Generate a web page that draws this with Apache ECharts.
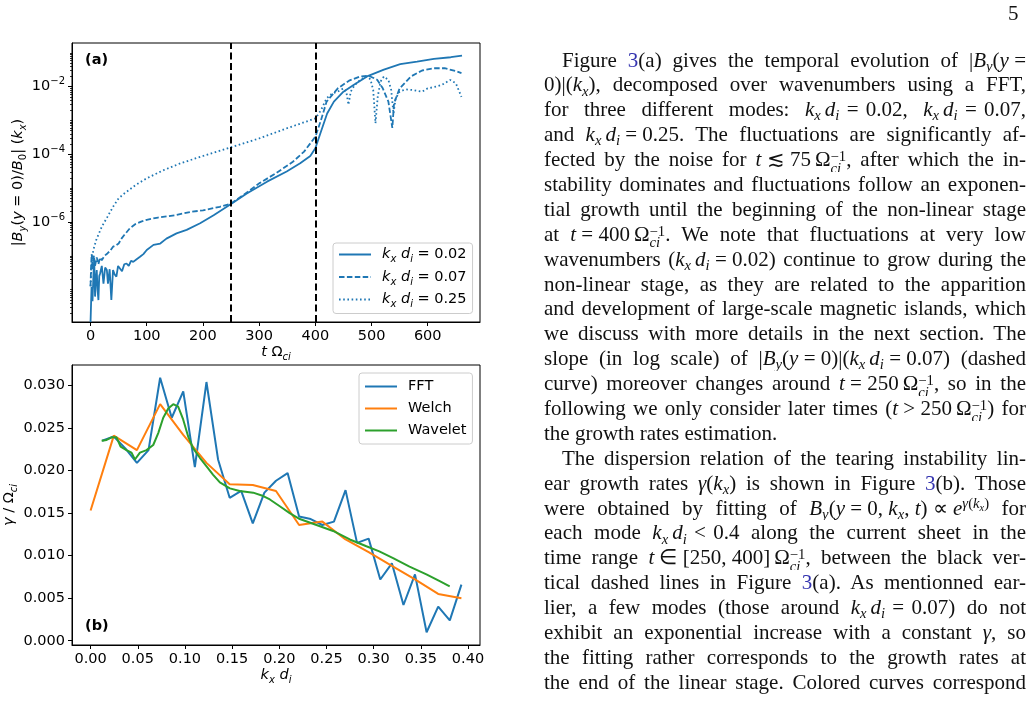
<!DOCTYPE html>
<html>
<head>
<meta charset="utf-8">
<script src="https://cdn.jsdelivr.net/npm/echarts@6/dist/echarts.min.js"></script>
<style>
html, body { margin: 0; padding: 0; background: #fff; }
#page { position: relative; width: 1033px; height: 704px; overflow: hidden; }
#chart { position: absolute; left: 0; top: 0; width: 1033px; height: 704px; }
#pagenum { position: absolute; left: 1008px; top: 0; font-family: "Liberation Serif", serif; font-size: 21px; line-height: 26px; color: #111; }
#text { position: absolute; left: 544px; top: 47.5px; width: 482px; font-family: "Liberation Serif", serif; font-size: 21px; color: #111; }
.l { height: 24.9px; line-height: 24.9px; text-align: justify; text-align-last: justify; overflow: hidden; }
.l.last { text-align-last: left; }
.l.ind { padding-left: 18px; }
.ref { color: #3535b0; }
.m { display: inline-block; white-space: nowrap; }
.m .g { display: inline-block; width: 4px; }
.m .e { display: inline-block; width: 2px; }
sub, sup { font-size: 0.7em; line-height: 0; position: relative; vertical-align: baseline; }
sub { top: 0.28em; }
sup { top: -0.45em; }
.ss { display: inline-block; font-size: 0.7em; line-height: 0.8em; vertical-align: -0.45em; }
.ss span { display: block; }
</style>
</head>
<body>
<div id="page">
  <div id="chart"></div>
  <div id="pagenum">5</div>
  <div id="text">
    <div class="l ind">Figure <span class="ref">3</span>(a) gives the temporal evolution of <span class="m">|<i>B<sub>y</sub></i>(<i>y</i> =</span></div>
    <div class="l"><span class="m">0)|(<i>k<sub>x</sub></i>),</span> decomposed over wavenumbers using a FFT,</div>
    <div class="l">for three different modes: <span class="m"><i>k<sub>x</sub></i><span class="g"></span><i>d<sub>i</sub></i><span class="e"></span> = <span class="e"></span>0.02,</span> <span class="m"><i>k<sub>x</sub></i><span class="g"></span><i>d<sub>i</sub></i><span class="e"></span> = <span class="e"></span>0.07,</span></div>
    <div class="l">and <span class="m"><i>k<sub>x</sub></i><span class="g"></span><i>d<sub>i</sub></i> = 0.25.</span> The fluctuations are significantly af-</div>
    <div class="l">fected by the noise for <span class="m"><i>t</i> ≲ 75<span class="g"></span>Ω<span class="ss"><span>−1</span><span><i>ci</i></span></span>,</span> after which the in-</div>
    <div class="l">stability dominates and fluctuations follow an exponen-</div>
    <div class="l">tial growth until the beginning of the non-linear stage</div>
    <div class="l">at <span class="m"><i>t</i> = 400<span class="g"></span>Ω<span class="ss"><span>−1</span><span><i>ci</i></span></span>.</span> We note that fluctuations at very low</div>
    <div class="l">wavenumbers <span class="m">(<i>k<sub>x</sub></i><span class="g"></span><i>d<sub>i</sub></i> = 0.02)</span> continue to grow during the</div>
    <div class="l">non-linear stage, as they are related to the apparition</div>
    <div class="l">and development of large-scale magnetic islands, which</div>
    <div class="l">we discuss with more details in the next section. The</div>
    <div class="l">slope (in log scale) of <span class="m">|<i>B<sub>y</sub></i>(<i>y</i> = 0)|(<i>k<sub>x</sub></i><span class="g"></span><i>d<sub>i</sub></i> = 0.07)</span> (dashed</div>
    <div class="l">curve) moreover changes around <span class="m"><i>t</i> = 250<span class="g"></span>Ω<span class="ss"><span>−1</span><span><i>ci</i></span></span>,</span> so in the</div>
    <div class="l">following we only consider later times <span class="m">(<i>t</i> &gt; 250<span class="g"></span>Ω<span class="ss"><span>−1</span><span><i>ci</i></span></span>)</span> for</div>
    <div class="l last">the growth rates estimation.</div>
    <div class="l ind">The dispersion relation of the tearing instability lin-</div>
    <div class="l">ear growth rates <span class="m"><i>γ</i>(<i>k<sub>x</sub></i>)</span> is shown in Figure <span class="ref">3</span>(b). Those</div>
    <div class="l">were obtained by fitting of <span class="m"><i>B<sub>y</sub></i>(<i>y</i> = 0, <i>k<sub>x</sub></i>, <i>t</i>) ∝ <i>e</i><sup><i>γ</i>(<i>k<sub>x</sub></i>)</sup></span> for</div>
    <div class="l">each mode <span class="m"><i>k<sub>x</sub></i><span class="g"></span><i>d<sub>i</sub></i><span class="e"></span> &lt; <span class="e"></span>0.4</span> along the current sheet in the</div>
    <div class="l">time range <span class="m"><i>t</i> ∈ [250, 400]<span class="g"></span>Ω<span class="ss"><span>−1</span><span><i>ci</i></span></span>,</span> between the black ver-</div>
    <div class="l">tical dashed lines in Figure <span class="ref">3</span>(a). As mentionned ear-</div>
    <div class="l">lier, a few modes (those around <span class="m"><i>k<sub>x</sub></i><span class="g"></span><i>d<sub>i</sub></i><span class="e"></span> = <span class="e"></span>0.07)</span> do not</div>
    <div class="l">exhibit an exponential increase with a constant <span class="m"><i>γ</i>,</span> so</div>
    <div class="l">the fitting rather corresponds to the growth rates at</div>
    <div class="l">the end of the linear stage. Colored curves correspond</div>
  </div>
</div>
<script>
// panel (a): |By(y=0)/B0|(kx) against t Omega_ci
const tK002 = [0, 1.8, 3.5, 5, 6.5, 8, 9.5, 11, 12.5, 14, 15.5, 17, 20, 23, 26, 29, 31, 34, 37, 40, 43, 46, 49, 52, 56, 60, 64,
  68, 72, 76, 82, 88, 94, 100, 112, 124, 135, 153, 171, 195, 219, 250, 278, 314, 349, 373, 391, 400, 409, 421, 433, 450, 468,
  492, 522, 551, 581, 611, 641, 661];
const bK002 = [1.1e-9, 1.2e-8, 4.5e-9, 2.4e-8, 8.0e-8, 6.2e-9, 2.0e-8, 3.8e-8, 1.0e-8, 4.9e-9, 2.5e-8, 3.0e-8, 5.0e-8, 1.5e-8,
  4.5e-8, 3.8e-8, 1.5e-8, 4.0e-8, 4.9e-9, 3.8e-8, 2.8e-8, 2.4e-8, 5.0e-8, 4.7e-8, 3.5e-8, 5.6e-8, 5.9e-8, 5.0e-8, 7.1e-8,
  6.6e-8, 7.9e-8, 9.3e-8, 1.12e-7, 1.48e-7, 2.1e-7, 2.3e-7, 3.2e-7, 4.6e-7, 5.8e-7, 9.1e-7, 1.58e-6, 3.4e-6, 6.9e-6, 1.55e-5,
  3.1e-5, 5.4e-5, 8.9e-5, 1.5e-4, 4.2e-4, 1.6e-3, 3.6e-3, 7.1e-3, 1.12e-2, 2.0e-2, 3.2e-2, 4.6e-2, 5.5e-2, 6.6e-2, 7.4e-2, 8.3e-2];

const tK007 = [0, 1, 2, 4, 6, 8, 11, 14, 17, 20, 25, 30, 35, 40, 45, 50, 55, 60, 70, 80, 90, 100, 120, 150, 180, 200, 230, 250,
  280, 300, 330, 360, 380, 400, 410, 420, 440, 460, 480, 495, 510, 520, 530, 537, 540, 550, 570, 590, 610, 630, 650, 660];
const bK007 = [1.26e-8, 5.0e-8, 1.12e-7, 4.0e-8, 1.0e-7, 5.0e-8, 8.9e-8, 5.6e-8, 8.9e-8, 7.4e-8, 1.0e-7, 1.17e-7, 1.41e-7,
  1.86e-7, 2.0e-7, 2.3e-7, 3.2e-7, 4.1e-7, 6.5e-7, 8.7e-7, 1.02e-6, 1.15e-6, 1.35e-6, 1.58e-6, 2.0e-6, 2.2e-6, 2.8e-6, 3.5e-6,
  7.8e-6, 1.38e-5, 2.75e-5, 6.0e-5, 1.2e-4, 3.3e-4, 1.02e-3, 3.6e-3, 8.9e-3, 1.5e-2, 2.0e-2, 2.1e-2, 1.6e-2, 8.9e-3, 3.6e-3,
  6.0e-4, 3.2e-3, 8.9e-3, 2.0e-2, 3.0e-2, 3.5e-2, 3.5e-2, 2.9e-2, 2.5e-2];

const tK025 = [0, 2, 5, 10, 15, 20, 30, 40, 50, 60, 80, 100, 130, 160, 200, 250, 300, 350, 400, 410, 420, 430, 440, 450, 455,
  459, 463, 470, 480, 490, 498, 503, 507, 511, 516, 522, 530, 535, 539, 543, 550, 560, 575, 590, 600, 615, 625, 640, 650, 660];
const bK025 = [1.26e-8, 6.3e-8, 1.48e-7, 2.9e-7, 4.6e-7, 7.2e-7, 1.41e-6, 2.8e-6, 5.0e-6, 6.9e-6, 1.23e-5, 1.95e-5, 3.4e-5,
  5.4e-5, 8.9e-5, 1.62e-4, 2.95e-4, 5.9e-4, 1.15e-3, 2.0e-3, 4.5e-3, 6.3e-3, 7.1e-3, 8.9e-3, 7.1e-3, 2.9e-3, 7.1e-3, 1.12e-2,
  1.58e-2, 2.0e-2, 1.66e-2, 7.9e-3, 8.3e-4, 5.0e-3, 1.41e-2, 2.0e-2, 1.58e-2, 7.9e-3, 1.62e-3, 4.5e-3, 7.1e-3, 8.3e-3, 7.9e-3,
  7.1e-3, 8.9e-3, 1.0e-2, 1.12e-2, 1.58e-2, 1.26e-2, 5.0e-3];

const tTicks = [0, 100, 200, 300, 400, 500, 600];
const bTicks = [1e-2, 1e-4, 1e-6];
const fitWindow = [250, 400];

// panel (b): growth rate gamma / Omega_ci against kx di
const kFFT = [0.0123, 0.0246, 0.0368, 0.0491, 0.0614, 0.0737, 0.0860, 0.0982, 0.1105, 0.1228, 0.1351, 0.1474, 0.1596, 0.1719,
  0.1842, 0.1965, 0.2088, 0.2210, 0.2333, 0.2456, 0.2579, 0.2702, 0.2824, 0.2947, 0.3070, 0.3193, 0.3316, 0.3438, 0.3561,
  0.3684, 0.3807, 0.3930];
const gFFT = [0.0235, 0.0240, 0.0226, 0.0209, 0.0224, 0.0309, 0.0262, 0.0293, 0.0204, 0.0304, 0.0213, 0.0168, 0.0176, 0.0138,
  0.0174, 0.0188, 0.0197, 0.0146, 0.0143, 0.0136, 0.0140, 0.0177, 0.0115, 0.0120, 0.0072, 0.0091, 0.0042, 0.0078, 0.0010,
  0.0040, 0.0024, 0.0066];

const kWelch = [0, 0.0246, 0.0491, 0.0737, 0.0982, 0.1228, 0.1474, 0.1719, 0.1965, 0.2210, 0.2456, 0.2702, 0.2947, 0.3193,
  0.3438, 0.3684, 0.3930];
const gWelch = [0.0153, 0.0241, 0.0224, 0.0278, 0.0242, 0.0209, 0.0184, 0.0183, 0.0176, 0.0136, 0.0140, 0.0119, 0.0104,
  0.0088, 0.0072, 0.0055, 0.0050];

const kWavelet = [0.0117, 0.017, 0.0222, 0.0275, 0.0318, 0.038, 0.0434, 0.047, 0.0523, 0.0593, 0.0664, 0.0717, 0.077, 0.0823,
  0.0876, 0.0928, 0.0981, 0.1034, 0.1087, 0.1158, 0.1229, 0.1299, 0.137, 0.1476, 0.158, 0.1723, 0.183, 0.19, 0.2005, 0.211,
  0.2217, 0.2394, 0.257, 0.2747, 0.2923, 0.306, 0.3206, 0.338, 0.3559, 0.37, 0.3806];
const gWavelet = [0.0235, 0.0236, 0.0239, 0.0239, 0.0228, 0.0224, 0.0221, 0.0213, 0.0221, 0.0224, 0.0230, 0.0244, 0.0262,
  0.0273, 0.0278, 0.0275, 0.0260, 0.0240, 0.0226, 0.0215, 0.0205, 0.0195, 0.0186, 0.0179, 0.0176, 0.0174, 0.0170, 0.0166,
  0.0158, 0.0150, 0.0143, 0.0136, 0.0129, 0.0119, 0.0111, 0.0105, 0.0097, 0.0087, 0.0078, 0.0070, 0.0064];

const kTicks = [0, 0.05, 0.1, 0.15, 0.2, 0.25, 0.3, 0.35, 0.4];
const gTicks = [0, 0.005, 0.01, 0.015, 0.02, 0.025, 0.03];

const zip = (xs, ys) => xs.map((x, i) => [x, ys[i]]);

// unlabelled log ticks: every m x 10^n that is not a labelled decade
const bMinor = [];
for (let n = -9; n <= -1; n++) {
  for (let m = 1; m <= 9; m++) {
    const v = m * Math.pow(10, n);
    if (v >= 1.1e-9 && v <= 0.195 && !(m === 1 && n % 2 === 0 && n >= -6)) bMinor.push(v);
  }
}

const blue = '#1f77b4', orange = '#ff7f0e', green = '#2ca02c';
const font = 'DejaVu Sans';
const fs = 14.5;
const math = {
  i: { fontStyle: 'italic', fontSize: fs, fontFamily: font, lineHeight: 20, color: '#000' },
  s: { fontStyle: 'italic', fontSize: 10, fontFamily: font, lineHeight: 11, verticalAlign: 'bottom', color: '#000' },
  u: { fontSize: 10, fontFamily: font, lineHeight: 11, verticalAlign: 'bottom', color: '#000' },
  sup: { fontSize: 10, fontFamily: font, lineHeight: 11, verticalAlign: 'top', color: '#000' },
  n: { fontSize: fs, fontFamily: font, lineHeight: 20, color: '#000' }
};
const supMinus = e => '{n|10}{sup|\u2212' + Math.abs(e) + '}';

const modeNames = ['0.02', '0.07', '0.25'];
const frame = { show: true, onZero: false, lineStyle: { color: '#000', width: 1 } };
const tickStyle = { show: true, length: 4, lineStyle: { color: '#000' } };
const labelBase = { fontFamily: font, fontSize: fs, color: '#000', margin: 7 };
const legendBox = {
  orient: 'vertical', itemWidth: 32, itemHeight: 14, itemGap: 5,
  padding: [4, 6, 4, 5], borderColor: '#ccc', borderWidth: 1, borderRadius: 3, backgroundColor: 'rgba(255,255,255,0.85)',
  itemStyle: { opacity: 0 }
};

const chart = echarts.init(document.getElementById('chart'));
chart.setOption({
  animation: false,
  textStyle: { fontFamily: font },
  grid: [
    { left: 72, top: 43, width: 408, height: 279, show: true, borderColor: '#000', borderWidth: 1, backgroundColor: 'transparent' },
    { left: 72, top: 365, width: 408, height: 280, show: true, borderColor: '#000', borderWidth: 1, backgroundColor: 'transparent' }
  ],
  xAxis: [
    {
      gridIndex: 0, type: 'value', min: -33, max: 693,
      axisLine: frame, axisTick: Object.assign({ customValues: tTicks }, tickStyle), splitLine: { show: false },
      axisLabel: Object.assign({ customValues: tTicks }, labelBase),
      name: '{i|t} {n|Ω}{s|ci}', nameLocation: 'middle', nameGap: 20,
      nameTextStyle: { fontSize: fs, color: '#000', rich: math }
    },
    {
      gridIndex: 1, type: 'value', min: -0.0197, max: 0.4127,
      axisLine: frame, axisTick: Object.assign({ customValues: kTicks }, tickStyle), splitLine: { show: false },
      axisLabel: Object.assign({ customValues: kTicks, formatter: v => v.toFixed(2) }, labelBase),
      name: '{i|k}{s|x} {i|d}{s|i}', nameLocation: 'middle', nameGap: 20,
      nameTextStyle: { fontSize: fs, color: '#000', rich: math }
    }
  ],
  yAxis: [
    {
      gridIndex: 0, type: 'log', logBase: 10, min: 1.1e-9, max: 0.195,
      axisLine: frame, axisTick: Object.assign({ customValues: bTicks }, tickStyle), splitLine: { show: false },
      minorTick: { show: false },
      axisLabel: Object.assign({}, labelBase, {
        customValues: bTicks,
        formatter: v => supMinus(Math.round(Math.log10(v))),
        rich: { sup: math.sup, n: math.n }
      }),
      name: '|{i|B}{s|y}{n|(}{i|y}{n| = 0)/}{i|B}{u|0}{n|| (}{i|k}{s|x}{n|)}', nameLocation: 'middle', nameGap: 44, nameRotate: 90,
      nameTextStyle: { fontSize: fs, color: '#000', rich: math }
    },
    {
      gridIndex: 1, type: 'value', min: -0.0005, max: 0.0324,
      axisLine: frame, axisTick: Object.assign({ customValues: gTicks }, tickStyle), splitLine: { show: false },
      axisLabel: Object.assign({ customValues: gTicks, formatter: v => v.toFixed(3) }, labelBase),
      name: '{i|γ}{n| / Ω}{s|ci}', nameLocation: 'middle', nameGap: 48, nameRotate: 90,
      nameTextStyle: { fontSize: fs, color: '#000', rich: math }
    },
    {
      // minor log ticks of panel (a)
      gridIndex: 0, type: 'log', logBase: 10, min: 1.1e-9, max: 0.195, position: 'left',
      axisLine: { show: false, onZero: false }, splitLine: { show: false }, axisLabel: { show: false },
      axisTick: { show: true, customValues: bMinor, length: 2, lineStyle: { color: '#000', width: 0.8 } }
    }
  ],
  legend: [
    Object.assign({
      data: modeNames.map(m => 'kxdi=' + m),
      left: 333, top: 243,
      formatter: name => '{i|k}{s|x} {i|d}{s|i}{n| = ' + name.split('=')[1] + '}',
      textStyle: { fontSize: fs, color: '#000', padding: [0, 0, 0, 6], rich: math }
    }, legendBox),
    Object.assign({
      data: ['FFT', 'Welch', 'Wavelet'],
      left: 359, top: 373,
      textStyle: { fontSize: fs, lineHeight: 17, color: '#000', padding: [0, 0, 0, 6] }
    }, legendBox, { itemGap: 5, padding: [5, 6, 5, 5] })
  ],
  graphic: [
    { type: 'text', left: 85, top: 53, style: { text: '(a)', font: 'bold 14.5px "DejaVu Sans"', fill: '#000' } },
    { type: 'text', left: 85, top: 619, style: { text: '(b)', font: 'bold 14.5px "DejaVu Sans"', fill: '#000' } }
  ],
  series: [
    {
      name: 'kxdi=0.02', type: 'line', xAxisIndex: 0, yAxisIndex: 0, data: zip(tK002, bK002),
      symbol: 'none', color: blue, lineStyle: { width: 1.8, color: blue },
      markLine: {
        silent: true, symbol: ['none', 'none'], label: { show: false },
        lineStyle: { color: '#000', type: [7, 3.5], width: 2 },
        data: fitWindow.map(t => ({ xAxis: t }))
      }
    },
    {
      name: 'kxdi=0.07', type: 'line', xAxisIndex: 0, yAxisIndex: 0, data: zip(tK007, bK007),
      symbol: 'none', color: blue, lineStyle: { width: 1.8, color: blue, type: [5.5, 2.4] }
    },
    {
      name: 'kxdi=0.25', type: 'line', xAxisIndex: 0, yAxisIndex: 0, data: zip(tK025, bK025),
      symbol: 'none', color: blue, lineStyle: { width: 1.8, color: blue, type: [1.6, 2.6] }
    },
    {
      name: 'FFT', type: 'line', xAxisIndex: 1, yAxisIndex: 1, data: zip(kFFT, gFFT),
      symbol: 'none', color: blue, lineStyle: { width: 2, color: blue }
    },
    {
      name: 'Welch', type: 'line', xAxisIndex: 1, yAxisIndex: 1, data: zip(kWelch, gWelch),
      symbol: 'none', color: orange, lineStyle: { width: 2, color: orange }
    },
    {
      name: 'Wavelet', type: 'line', xAxisIndex: 1, yAxisIndex: 1, data: zip(kWavelet, gWavelet),
      symbol: 'none', color: green, lineStyle: { width: 2, color: green }
    }
  ]
});
</script>
</body>
</html>
